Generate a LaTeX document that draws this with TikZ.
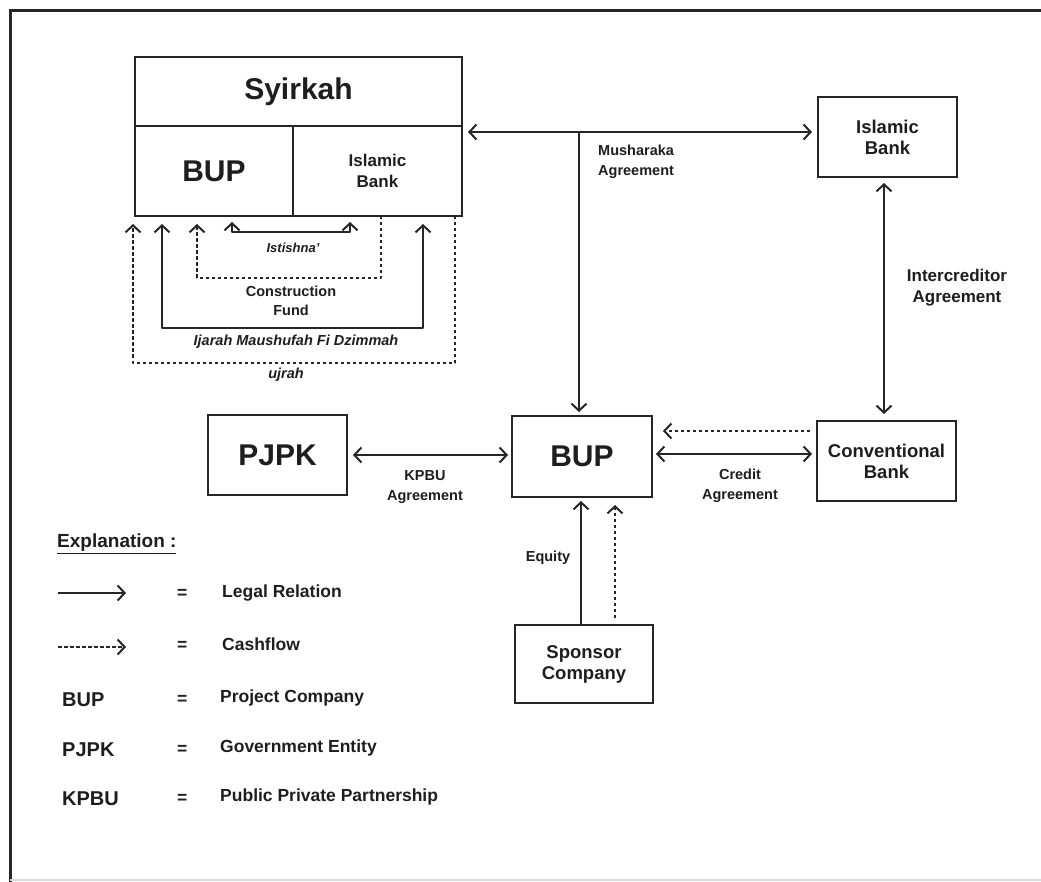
\documentclass[tikz,border=0pt]{standalone}
\usepackage{fontspec}
\setmainfont{Liberation Sans}
\usetikzlibrary{arrows.meta,calc}
\definecolor{ink}{HTML}{262626}
\definecolor{txt}{HTML}{1E1E1E}
\tikzset{
  box/.style={draw=ink, line width=2.4pt, inner sep=0pt, outer sep=0pt, align=center, text=txt, font=\bfseries\fontsize{18.5}{21}\selectfont},
  bigbox/.style={box, font=\bfseries\fontsize{30}{34}\selectfont},
  lbl/.style={inner sep=0pt, align=center, text=txt, font=\bfseries\fontsize{14.5}{19.5}\selectfont},
  ilbl/.style={lbl, font=\bfseries\itshape\fontsize{14.5}{19.5}\selectfont},
  leg/.style={inner sep=0pt, anchor=west, text=txt, font=\bfseries\fontsize{17.5}{20}\selectfont},
  legab/.style={inner sep=0pt, anchor=west, text=txt, font=\bfseries\fontsize{20}{22}\selectfont},
  legal/.style={draw=ink, line width=2.2pt, line join=round, arrows={-}, >={Straight Barb[length=7pt,width=15pt,line width=2pt]}},
  cash/.style={legal, line width=1.8pt, dash pattern=on 3.5pt off 2.5pt},
}
\begin{document}
\begin{tikzpicture}[x=1pt,y=-1pt]
\useasboundingbox (0,0) rectangle (1041,882);
\fill[white] (0,0) rectangle (1041,882);
% frame
\draw[ink, line width=3pt] (10,882) -- (10,11) -- (1041,11);
\draw[black!15, line width=1.2pt] (10,880) -- (1041,880);

% Syirkah block
\node[bigbox, minimum width=327pt, minimum height=69pt] (syirkah) at (298.5,91.5) {Syirkah};
\node[bigbox, minimum width=158pt, minimum height=90pt] (sbup) at (214,171) {BUP};
\node[box, minimum width=169pt, minimum height=90pt, font=\bfseries\fontsize{17}{21}\selectfont] (sbank) at (377.5,171) {Islamic\\Bank};

% other boxes
\node[box, minimum width=139pt, minimum height=80pt] (ibank) at (887.5,137) {Islamic\\Bank};
\node[box, minimum width=139pt, minimum height=80pt] (cbank) at (886.5,461) {Conventional\\Bank};
\node[bigbox, minimum width=140pt, minimum height=81pt] (bup) at (582,456.5) {BUP};
\node[bigbox, minimum width=139pt, minimum height=80pt] (pjpk) at (277.5,455) {PJPK};
\node[box, minimum width=138pt, minimum height=78pt] (sponsor) at (584,664) {Sponsor\\Company};

% Musharaka
\coordinate (mj) at (579,132);
\draw[legal,<->] ($(sbank.east |- mj)+(6,0)$) -- ($(ibank.west |- mj)+(-6,0)$);
\draw[legal,->] (mj) -- ($(bup.north -| mj)+(0,-4)$);
\node[lbl, anchor=north west] (lmush) at (598,145) {Musharaka\\Agreement};

% Intercreditor
\coordinate (ic) at (884,300);
\draw[legal,<->] ($(ibank.south -| ic)+(0,6)$) -- ($(cbank.north -| ic)+(0,-7)$);
\node[lbl, font=\bfseries\fontsize{17}{21}\selectfont] (lint) at (957,288) {Intercreditor\\Agreement};

% KPBU
\coordinate (kp) at (400,455);
\draw[legal,<->] ($(pjpk.east |- kp)+(6,0)$) -- ($(bup.west |- kp)+(-4,0)$);
\node[lbl] (lkpbu) at (425,487) {KPBU\\Agreement};

% Credit
\coordinate (cr) at (740,454);
\draw[legal,<->] ($(bup.east |- cr)+(4,0)$) -- ($(cbank.west |- cr)+(-5,0)$);
\node[lbl] (lcred) at (740,486) {Credit\\Agreement};
\coordinate (cf) at (740,431);
\draw[cash,->] ($(cbank.west |- cf)+(-7,0)$) -- ($(bup.east |- cf)+(11,0)$);

% Sponsor
\coordinate (eq) at (581,560);
\draw[legal,->] (sponsor.north -| eq) -- ($(bup.south -| eq)+(0,4)$);
\coordinate (sc) at (615,560);
\draw[cash,->] ($(sponsor.north -| sc)+(0,-7)$) -- ($(bup.south -| sc)+(0,8)$);
\node[lbl] (lequity) at (548,558) {Equity};

% Syirkah bottom flows
\draw[cash,->] ($(sbank.south east)+(-7,0)$) |- (133,363) -- ($(sbup.south west)+(-2,8)$);
\draw[legal,<->] ($(sbup.south west)+(27,8)$) |- (423,328) -- ($(sbank.south east)+(-39,8)$);
\draw[cash,->] ($(sbank.south east)+(-81,0)$) |- (197,278) -- ($(sbup.south west)+(62,8)$);
\draw[legal,<->] ($(sbup.south west)+(97,6)$) -- ++(0,10) -| ($(sbup.south east)+(57,6)$);
\node[ilbl, font=\bfseries\itshape\fontsize{13}{16}\selectfont] (list) at (293,248) {Istishna'};
\node[lbl] (lcf) at (291,301) {Construction\\Fund};
\node[ilbl] (lijr) at (296,342) {Ijarah Maushufah Fi Dzimmah};
\node[ilbl] (lujr) at (286,375) {ujrah};

% Legend
\node[leg, font=\bfseries\fontsize{19}{22}\selectfont] (lexp) at (57,544) {\underline{Explanation :}};
\coordinate (l1s) at (58,593);
\coordinate (l1e) at (126,593);
\draw[legal,->] (l1s) -- (l1e);
\coordinate (l2s) at (58,647);
\coordinate (l2e) at (126,647);
\draw[cash,->] (l2s) -- (l2e);
\node[leg] (e1) at (177,594) {=};
\node[leg] (e2) at (177,646) {=};
\node[leg] (e3) at (177,700) {=};
\node[leg] (e4) at (177,750) {=};
\node[leg] (e5) at (177,799) {=};
\node[leg] (t1) at (222,593) {Legal Relation};
\node[leg] (t2) at (222,644) {Cashflow};
\node[legab] (a3) at (62,700) {BUP};
\node[leg] (t3) at (220,698) {Project Company};
\node[legab] (a4) at (62,750) {PJPK};
\node[leg] (t4) at (220,748) {Government Entity};
\node[legab] (a5) at (62,799) {KPBU};
\node[leg] (t5) at (220,797) {Public Private Partnership};
\end{tikzpicture}
\end{document}
